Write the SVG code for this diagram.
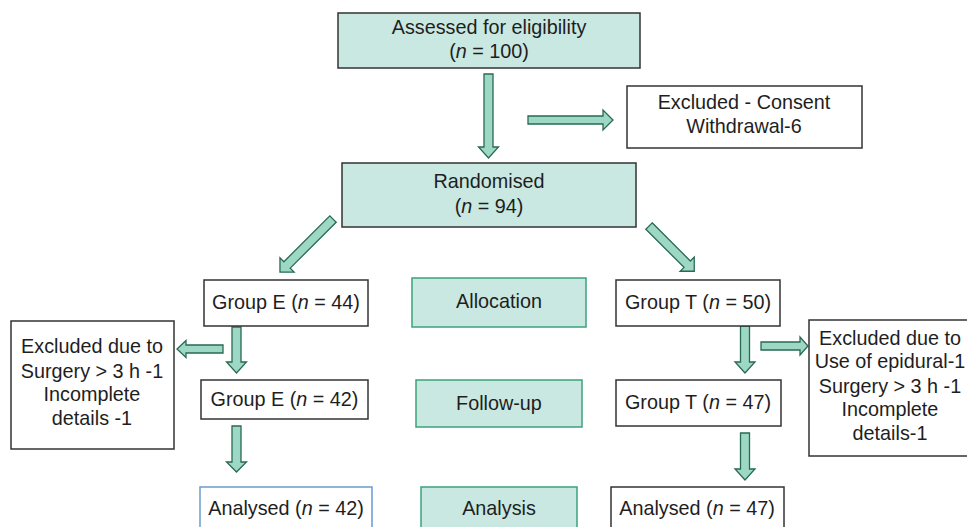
<svg xmlns="http://www.w3.org/2000/svg" width="967" height="527" viewBox="0 0 967 527">
<style>
  text { font-family: "Liberation Sans", Arial, sans-serif; font-size: 19.8px; fill: #1e1e1e; text-anchor: middle; }
  .teal { fill: #c9e8e1; stroke: #333; stroke-width: 1.5; }
  .plain { fill: #ffffff; stroke: #333; stroke-width: 1.5; }
  .stage { fill: #c9e8e1; stroke: #3aa37a; stroke-width: 1.5; }
  .blue { fill: #ffffff; stroke: #6a9bd1; stroke-width: 1.5; }
  .arr { fill: #9dd7c5; stroke: #2a6a50; stroke-width: 1.3; stroke-linejoin: miter; }
</style>
<rect width="967" height="527" fill="#ffffff"/>

<g id="connectors">
  <path class="arr" transform="translate(488.5,74) rotate(90)" d="M0,-4.5 H73 V-10 L84,0 L73,10 V4.5 H0 Z"/>
  <path class="arr" transform="translate(528,120)" d="M0,-4 H75 V-10 L85,0 L75,10 V4 H0 Z"/>
  <path class="arr" transform="translate(333,219) rotate(135)" d="M0,-4.5 H65 V-10 L75,0 L65,10 V4.5 H0 Z"/>
  <path class="arr" transform="translate(649,226) rotate(45)" d="M0,-4.5 H54 V-10 L64,0 L54,10 V4.5 H0 Z"/>
  <path class="arr" transform="translate(236.5,327) rotate(90)" d="M0,-4.5 H35 V-10 L46,0 L35,10 V4.5 H0 Z"/>
  <path class="arr" transform="translate(223,349) rotate(180)" d="M0,-4 H37 V-8.5 L46,0 L37,8.5 V4 H0 Z"/>
  <path class="arr" transform="translate(236.5,426) rotate(90)" d="M0,-4.5 H36 V-10 L46,0 L36,10 V4.5 H0 Z"/>
  <path class="arr" transform="translate(745,326) rotate(90)" d="M0,-4.5 H36 V-10 L47,0 L36,10 V4.5 H0 Z"/>
  <path class="arr" transform="translate(761,346)" d="M0,-4 H39 V-9 L47,0 L39,9 V4 H0 Z"/>
  <path class="arr" transform="translate(745,433) rotate(90)" d="M0,-4.5 H36 V-10 L47,0 L36,10 V4.5 H0 Z"/>
</g>

<g id="assessed">
  <rect class="teal" x="338" y="13" width="302" height="55"/>
  <text x="489" y="34">Assessed for eligibility</text>
  <text x="489" y="58">(<tspan font-style="italic">n</tspan> = 100)</text>
</g>

<g id="excluded-consent">
  <rect class="plain" x="627" y="86" width="235" height="62"/>
  <text x="744" y="109">Excluded - Consent</text>
  <text x="744" y="133">Withdrawal-6</text>
</g>

<g id="randomised">
  <rect class="teal" x="342" y="163" width="294" height="64"/>
  <text x="489" y="188">Randomised</text>
  <text x="489" y="213">(<tspan font-style="italic">n</tspan> = 94)</text>
</g>

<g id="group-e-44">
  <rect class="plain" x="204" y="280" width="164" height="46"/>
  <text x="286" y="309">Group E (<tspan font-style="italic">n</tspan> = 44)</text>
</g>

<g id="allocation">
  <rect class="stage" x="412" y="278" width="174" height="49"/>
  <text x="499" y="308">Allocation</text>
</g>

<g id="group-t-50">
  <rect class="plain" x="616" y="280" width="164" height="46"/>
  <text x="698" y="309">Group T (<tspan font-style="italic">n</tspan> = 50)</text>
</g>

<g id="excluded-e">
  <rect class="plain" x="11" y="321" width="163" height="128"/>
  <text x="92" y="353">Excluded due to</text>
  <text x="92" y="378">Surgery &gt; 3 h -1</text>
  <text x="92" y="401">Incomplete</text>
  <text x="92" y="425">details -1</text>
</g>

<g id="group-e-42">
  <rect class="plain" x="201" y="380" width="167" height="39"/>
  <text x="284.5" y="406">Group E (<tspan font-style="italic">n</tspan> = 42)</text>
</g>

<g id="follow-up">
  <rect class="stage" x="416" y="380" width="166" height="47"/>
  <text x="499" y="410">Follow-up</text>
</g>

<g id="group-t-47">
  <rect class="plain" x="616" y="380" width="165" height="46"/>
  <text x="698" y="409">Group T (<tspan font-style="italic">n</tspan> = 47)</text>
</g>

<g id="excluded-t">
  <rect class="plain" x="809" y="320" width="170" height="136"/>
  <text x="890" y="345">Excluded due to</text>
  <text x="890" y="368">Use of epidural-1</text>
  <text x="890" y="393">Surgery &gt; 3 h -1</text>
  <text x="890" y="416">Incomplete</text>
  <text x="890" y="440">details-1</text>
</g>

<g id="analysed-e">
  <rect class="blue" x="200" y="487" width="172" height="50"/>
  <text x="286" y="515">Analysed (<tspan font-style="italic">n</tspan> = 42)</text>
</g>

<g id="analysis">
  <rect class="stage" x="421" y="487" width="156" height="50"/>
  <text x="499" y="515">Analysis</text>
</g>

<g id="analysed-t">
  <rect class="plain" x="611" y="487" width="173" height="50"/>
  <text x="697" y="515">Analysed (<tspan font-style="italic">n</tspan> = 47)</text>
</g>
</svg>
